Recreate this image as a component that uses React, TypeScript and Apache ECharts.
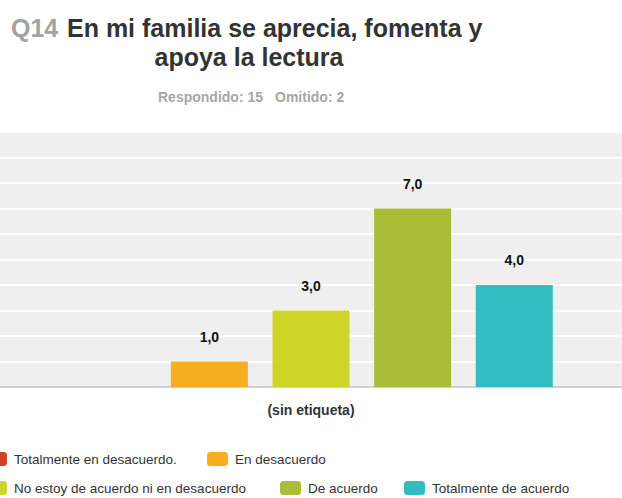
import React, { useEffect, useRef } from "react";
import * as echarts from "echarts";

const categories = ["(sin etiqueta)"];
const seriesNames = [
  "Totalmente en desacuerdo.",
  "En desacuerdo",
  "No estoy de acuerdo ni en desacuerdo",
  "De acuerdo",
  "Totalmente de acuerdo",
];
const seriesValues = [0, 1, 3, 7, 4];
const seriesColors = ["#d1431c", "#f7ae20", "#cfd428", "#a9bd38", "#33bdc0"];
const titleCode = "Q14";
const titleLine1 = "En mi familia se aprecia, fomenta y";
const titleLine2 = "apoya la lectura";
const answered = "Respondido: 15";
const skipped = "Omitido: 2";

const FONT = "Arial, 'Liberation Sans', sans-serif";

// legend placement: [left, top] per series
const legendPos: [number, number][] = [
  [-14, 452],
  [207, 452],
  [-14, 481],
  [280, 481],
  [404, 481],
];

export default function App() {
  const ref = useRef<HTMLDivElement>(null);
  useEffect(() => {
    if (!ref.current) return;
    const chart = echarts.init(ref.current, undefined, { renderer: "svg" });
    const option: any = {
      animation: false,
      backgroundColor: "#ffffff",
      textStyle: { fontFamily: FONT },
      graphic: [
        {
          type: "text",
          x: 11,
          y: 28,
          style: {
            text: titleCode,
            font: `bold 25px ${FONT}`,
            fill: "#a3a3a3",
            align: "left",
            verticalAlign: "middle",
          },
        },
        {
          type: "text",
          x: 67,
          y: 28,
          style: {
            text: titleLine1,
            font: `bold 25px ${FONT}`,
            fill: "#333333",
            align: "left",
            verticalAlign: "middle",
          },
        },
        {
          type: "text",
          x: 249,
          y: 57,
          style: {
            text: titleLine2,
            font: `bold 25px ${FONT}`,
            fill: "#333333",
            align: "center",
            verticalAlign: "middle",
          },
        },
        {
          type: "text",
          x: 158,
          y: 97,
          style: {
            text: answered,
            font: `bold 14px ${FONT}`,
            fill: "#a6a6a6",
            align: "left",
            verticalAlign: "middle",
          },
        },
        {
          type: "text",
          x: 275,
          y: 97,
          style: {
            text: skipped,
            font: `bold 14px ${FONT}`,
            fill: "#a6a6a6",
            align: "left",
            verticalAlign: "middle",
          },
        },
      ],
      legend: seriesNames.map((name, i) => ({
        data: [name],
        left: legendPos[i][0],
        top: legendPos[i][1],
        padding: 0,
        icon: "roundRect",
        itemWidth: 21,
        itemHeight: 14,
        textStyle: {
          fontSize: 13.5,
          color: "#333333",
          fontFamily: FONT,
          padding: [0, 0, 0, 2],
        },
      })),
      grid: {
        left: -2,
        right: 0,
        top: 132,
        bottom: 111,
        show: true,
        backgroundColor: "#efefef",
        borderWidth: 0,
      },
      xAxis: {
        type: "category",
        data: categories,
        axisTick: { show: false },
        axisLine: { show: true, lineStyle: { color: "#d0d0d0", width: 2 } },
        axisLabel: {
          margin: 16,
          fontSize: 14,
          fontWeight: "bold",
          color: "#333333",
          fontFamily: FONT,
        },
      },
      yAxis: {
        type: "value",
        min: 0,
        max: 10,
        interval: 1,
        axisLabel: { show: false },
        axisLine: { show: false },
        axisTick: { show: false },
        splitLine: { show: true, lineStyle: { color: "#ffffff", width: 2 } },
      },
      series: seriesNames.map((name, i) => ({
        name,
        type: "bar",
        data: [seriesValues[i]],
        barWidth: 77,
        barGap: "32%",
        itemStyle: { color: seriesColors[i] },
        label: {
          show: true,
          position: "top",
          distance: 18,
          fontSize: 14,
          fontWeight: "bold",
          color: "#111111",
          fontFamily: FONT,
          formatter: (p: any) =>
            p.value === 0 ? "" : Number(p.value).toFixed(1).replace(".", ","),
        },
      })),
    };
    chart.setOption(option);
    return () => chart.dispose();
  }, []);
  return (
    <div
      ref={ref}
      style={{ position: "absolute", left: 0, top: 0, width: 622, height: 498 }}
    />
  );
}
